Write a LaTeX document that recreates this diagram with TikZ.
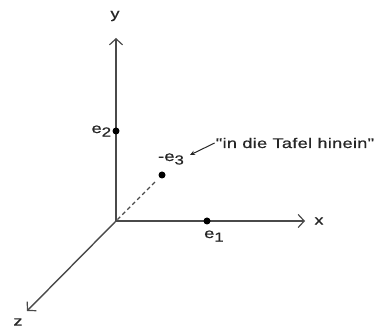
\documentclass[tikz,border=0pt]{standalone}
\usepackage{fontspec}
\newfontfamily\labfont[FakeStretch=1.3,LetterSpace=2,FakeBold=0.6]{Liberation Sans}
\usetikzlibrary{arrows.meta, positioning}
\definecolor{achse}{HTML}{4A4A4A}
\tikzset{
  % Koordinatenachse
  axis/.style={line width=1.4pt, achse,
    -{Straight Barb[length=6pt, width=13pt, line width=1.2pt]}},
  % Einheitsvektor als Punkt
  dot/.style={circle, fill=black, minimum size=7pt, inner sep=0pt},
  % Beschriftung
  lbl/.style={font=\fontsize{14}{16}\labfont, inner sep=1pt, text=black!85},
  % Hinweispfeil
  hint/.style={-{Stealth[length=5pt, width=4.5pt]}, line width=1pt, black!85},
  % Strecke hinter der Tafel
  behind/.style={line width=1.1pt, achse, dash pattern=on 4pt off 3pt},
}
\newcommand{\vekt}[2]{#1\raisebox{-3.5pt}{\fontsize{13}{14}\labfont #2}}

\begin{document}
\begin{tikzpicture}[x=1pt, y=1pt]
  \useasboundingbox (0,0) rectangle (380,334);
  \coordinate (O) at (116,113);
  \coordinate (xend) at (305,113);
  \coordinate (yend) at (116,296);
  \coordinate (zend) at (27,23);
  \draw[axis] (O) -- (xend);
  \draw[axis] (O) -- (yend);
  \draw[axis] (O) -- (zend);
  \node[lbl] (xlab) at (319,113) {x};
  \node[lbl] (ylab) at (115,318) {y};
  \node[lbl] (zlab) at (18,12) {z};
  \node[dot] (e1) at (207,113) {};
  \node[lbl] (e1lab) at (214,98) {\vekt{e}{1}};
  \node[dot] (e2) at (116,203) {};
  \node[lbl, left=0pt of e2] (e2lab) {\vekt{e}{2}};
  \node[dot] (e3) at (162,159) {};
  \node[lbl] (e3lab) at (171,175) {-\vekt{e}{3}};
  \draw[behind, shorten <=2pt, shorten >=5pt] (O) -- (e3);
  \node[lbl] (hinein) at (295,191) {"in die Tafel hinein"};
  \coordinate (zeig) at (190,179);
  \draw[hint] (hinein.west) -- (zeig);
\end{tikzpicture}
\end{document}
